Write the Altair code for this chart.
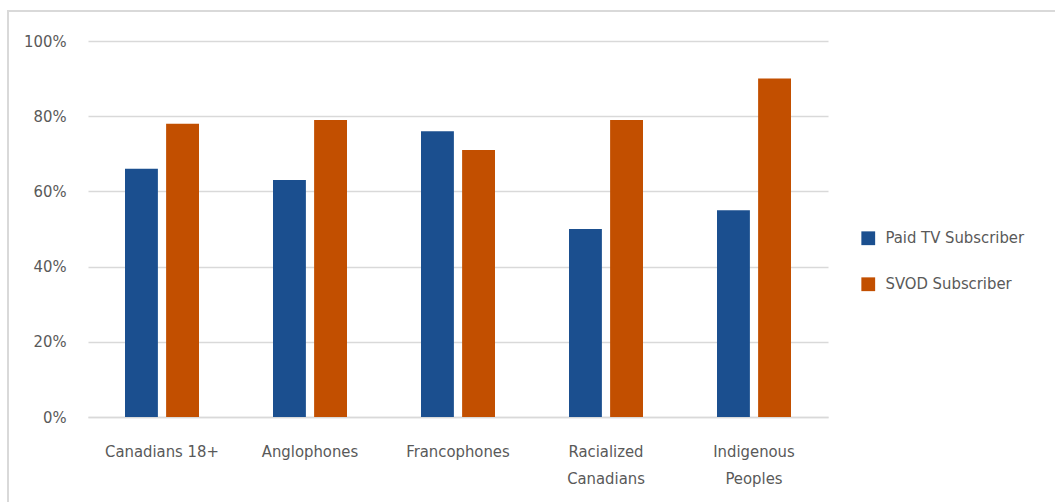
import altair as alt
import pandas as pd

categories = ["Canadians 18+", "Anglophones", "Francophones", "Racialized Canadians", "Indigenous Peoples"]
paid_tv = [66, 63, 76, 50, 55]
svod = [78, 79, 71, 79, 90]
series = ["Paid TV Subscriber", "SVOD Subscriber"]
colors = ["#1B4F8F", "#C24F00"]

rows = []
for c, p, s in zip(categories, paid_tv, svod):
    rows.append({"cat": c, "series": series[0], "value": p / 100})
    rows.append({"cat": c, "series": series[1], "value": s / 100})
df = pd.DataFrame(rows)

FONT = "DejaVu Sans Condensed, Roboto, sans-serif"
GREY = "#595959"

label_expr = ("datum.value == 'Racialized Canadians' ? ['Racialized', 'Canadians'] : "
              "datum.value == 'Indigenous Peoples' ? ['Indigenous', 'Peoples'] : datum.value")

bars = alt.Chart(df).mark_bar().encode(
    x=alt.X("cat:N", sort=categories, title=None,
            scale=alt.Scale(paddingInner=0.5, paddingOuter=0.25),
            axis=alt.Axis(labelAngle=0, labelExpr=label_expr, ticks=False, grid=False,
                          domainColor="#D9D9D9", domainWidth=1.5,
                          labelPadding=26, labelLineHeight=27,
                          labelFontSize=16.5, labelColor=GREY, labelFont=FONT)),
    xOffset=alt.XOffset("series:N", sort=series,
                        scale=alt.Scale(paddingInner=0.2)),
    y=alt.Y("value:Q", title=None,
            scale=alt.Scale(domain=[0, 1]),
            axis=alt.Axis(format=".0%", values=[0, 0.2, 0.4, 0.6, 0.8, 1.0],
                          ticks=False, domain=False, gridColor="#D9D9D9",
                          gridWidth=1.5, labelPadding=22, labelFontSize=16.5,
                          labelColor=GREY, labelFont=FONT)),
    color=alt.Color("series:N", sort=series,
                    scale=alt.Scale(domain=series, range=colors),
                    legend=alt.Legend(title=None, orient="none", legendX=772, legendY=189,
                                      symbolType="square", symbolSize=190,
                                      labelFontSize=16.5, labelColor=GREY, labelFont=FONT,
                                      rowPadding=29, labelOffset=9)),
)

top_line = alt.Chart(df).mark_rule(color="#D9D9D9", strokeWidth=2).encode(
    x=alt.value(-81), x2=alt.value(1000), y=alt.value(-30))
left_line = alt.Chart(df).mark_rule(color="#D9D9D9", strokeWidth=2).encode(
    x=alt.value(-80), y=alt.value(-31), y2=alt.value(500))

chart = alt.layer(bars, top_line, left_line).properties(
    width=740, height=376,
    padding={"left": 88, "top": 41, "right": 227, "bottom": 85},
    autosize=alt.AutoSizeParams(type="none"),
    background="white",
).configure_view(strokeWidth=0, stroke=None)

chart.save("out.html", embed_options={"renderer": "svg", "actions": False})
